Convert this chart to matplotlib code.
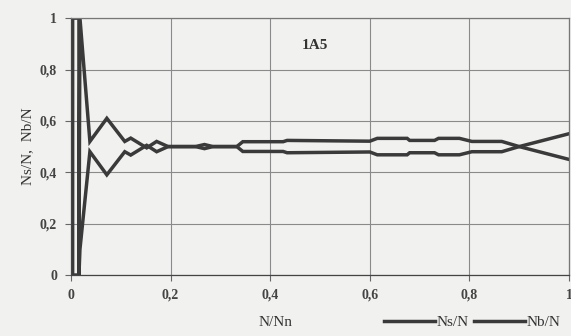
import numpy as np
import matplotlib.pyplot as plt

# N/Nn sample points and the two ratios
n_ratio = [0.003, 0.003, 0.016, 0.016, 0.018, 0.038, 0.072, 0.108, 0.120, 0.152,
           0.172, 0.195, 0.215, 0.250, 0.268, 0.285, 0.333, 0.345, 0.426, 0.434,
           0.600, 0.615, 0.675, 0.680, 0.730, 0.738, 0.780, 0.805, 0.865, 0.900, 1.000]
ns_n = [0.00, 1.00, 1.00, 0.00, 1.00, 0.52, 0.61, 0.52, 0.533, 0.495,
        0.52, 0.50, 0.50, 0.50, 0.508, 0.50, 0.50, 0.519, 0.519, 0.524,
        0.521, 0.532, 0.532, 0.524, 0.524, 0.532, 0.532, 0.52, 0.52, 0.50, 0.55]
nb_n = [1.00, 0.00, 0.00, 0.00, 0.10, 0.48, 0.39, 0.48, 0.467, 0.505,
        0.48, 0.50, 0.50, 0.50, 0.492, 0.50, 0.50, 0.481, 0.481, 0.476,
        0.479, 0.468, 0.468, 0.476, 0.476, 0.468, 0.468, 0.48, 0.48, 0.50, 0.45]

y_ticks = [0, 0.2, 0.4, 0.6, 0.8, 1]
x_ticks = [0, 0.2, 0.4, 0.6, 0.8, 1]
tick_labels = ['0', '0,2', '0,4', '0,6', '0,8', '1']

bg = '#f1f1ef'
ink = '#3a3a3a'
plt.rcParams['font.family'] = ['Liberation Serif', 'DejaVu Serif']

fig = plt.figure(figsize=(5.71, 3.36), dpi=100, facecolor=bg)
ax = fig.add_axes([0.1243, 0.1815, 0.8722, 0.7645], facecolor=bg)

ax.plot(n_ratio, ns_n, color=ink, lw=2.5, label='Ns/N', solid_joinstyle='miter')
ax.plot(n_ratio, nb_n, color=ink, lw=2.5, label='Nb/N', solid_joinstyle='miter')

ax.set_xlim(0, 1)
ax.set_ylim(0, 1)
ax.set_xticks(x_ticks)
ax.set_yticks(y_ticks)
ax.set_xticklabels(tick_labels, fontsize=10, fontweight='bold', color='#444444')
ax.set_yticklabels(tick_labels, fontsize=10, fontweight='bold', color='#444444')
ax.grid(True, color='#8a8a8a', lw=0.8)
ax.tick_params(axis='both', length=4, width=0.8, color='#666666', pad=6)
for s in ax.spines.values():
    s.set_color('#777777')
    s.set_linewidth(0.9)
ax.spines['left'].set_color('#444444')
ax.spines['bottom'].set_color('#444444')

ax.text(0.49, 0.895, '1A5', fontsize=11, fontweight='bold', color='#333333',
        ha='center', va='center')
ax.set_ylabel('Ns/N,  Nb/N', fontsize=11, color='#333333', labelpad=4)
fig.text(0.482, 0.04, 'N/Nn', fontsize=11, color='#333333', ha='center', va='center')

fig.legend(loc='center', bbox_to_anchor=(0.827, 0.04), ncol=2, frameon=False,
           fontsize=11, handlelength=3.3, handletextpad=0.1, columnspacing=0.4,
           labelcolor='#333333', borderpad=0.1)

fig.savefig('out.png', dpi=100, facecolor=bg)
